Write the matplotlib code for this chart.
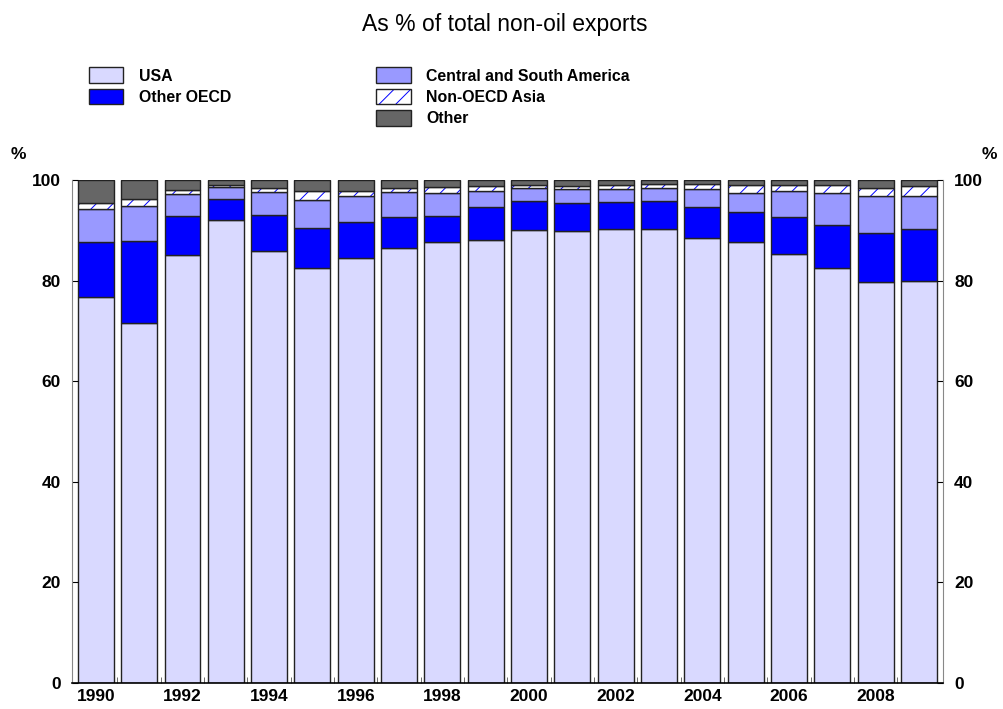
import matplotlib.pyplot as plt
import numpy as np
from matplotlib.patches import Patch

plt.rcParams['font.family'] = ['Liberation Sans', 'DejaVu Sans']
plt.rcParams['hatch.linewidth'] = 0.7

# Jahre und kumulierte Obergrenzen (in %)
jahre = np.arange(1990, 2010)
usa = np.array([76.8, 71.6, 85.2, 92.0, 85.9, 82.6, 84.6, 86.4, 87.7, 88.1,
                90.1, 89.8, 90.2, 90.3, 88.5, 87.7, 85.4, 82.5, 79.7, 80.0])
oecd_top = np.array([87.6, 87.9, 92.8, 96.3, 93.0, 90.4, 91.6, 92.6, 92.8, 94.7,
                     95.8, 95.4, 95.6, 95.8, 94.6, 93.6, 92.6, 91.1, 89.4, 90.2])
csa_top = np.array([94.2, 94.8, 97.2, 98.7, 97.6, 96.0, 96.9, 97.6, 97.5, 97.8,
                    98.5, 98.3, 98.3, 98.5, 98.2, 97.4, 97.8, 97.4, 96.8, 96.8])
asien_top = np.array([95.4, 96.2, 98.1, 99.0, 98.4, 97.8, 97.8, 98.5, 98.7, 98.9,
                      99.0, 98.8, 99.1, 99.3, 99.3, 99.0, 99.0, 99.0, 98.5, 98.8])

andere_oecd = oecd_top - usa
csa = csa_top - oecd_top
asien = asien_top - csa_top
andere = 100 - asien_top

FARBE_USA = '#d9d9ff'
FARBE_OECD = '#0000ff'
FARBE_CSA = '#9999ff'
FARBE_ANDERE = '#666666'
RAND = '#222222'
SCHRIFT = 12.5

fig = plt.figure(figsize=(10.04, 7.09), dpi=100)
ax = fig.add_axes([0.0717, 0.0367, 0.8675, 0.7093])

x = np.arange(len(jahre))
b = 0.83
ax.bar(x, usa, b, color=FARBE_USA, edgecolor=RAND, linewidth=1)
ax.bar(x, andere_oecd, b, bottom=usa, color=FARBE_OECD, edgecolor=RAND, linewidth=1)
ax.bar(x, csa, b, bottom=oecd_top, color=FARBE_CSA, edgecolor=RAND, linewidth=1)
# schraffiert: erst Schraffur in blau, dann Rahmen
ax.bar(x, asien, b, bottom=csa_top, color='white', edgecolor='blue', hatch='//', linewidth=0)
ax.bar(x, asien, b, bottom=csa_top, fill=False, edgecolor=RAND, linewidth=1)
ax.bar(x, andere, b, bottom=asien_top, color=FARBE_ANDERE, edgecolor=RAND, linewidth=1)

ax.set_xlim(-0.55, len(jahre) - 0.45)
ax.set_ylim(0, 100)
ax.set_yticks([0, 20, 40, 60, 80, 100])
ax.set_xticks(x[::2])
ax.set_xticklabels([str(j) for j in jahre[::2]])
ax.set_xticks(x[:-1] + 0.5, minor=True)
ax.tick_params(axis='x', which='major', length=0, pad=4, labelsize=SCHRIFT)
ax.tick_params(axis='x', which='minor', direction='in', length=4, color='#555555')
ax.tick_params(axis='y', direction='in', length=4, right=True, labelright=True, pad=8,
               labelsize=SCHRIFT)
for lab in ax.get_xticklabels():
    lab.set_fontweight('bold')
for t in ax.yaxis.get_major_ticks():
    t.label1.set_fontweight('bold')
    t.label2.set_fontweight('bold')

ax.spines['top'].set_visible(False)
ax.spines['left'].set_color('#888888')
ax.spines['right'].set_color('#888888')
ax.spines['bottom'].set_color('black')
ax.spines['bottom'].set_linewidth(1.2)

fig.text(0.011, 0.782, '%', fontsize=SCHRIFT, fontweight='bold', ha='left', va='center')
fig.text(0.993, 0.782, '%', fontsize=SCHRIFT, fontweight='bold', ha='right', va='center')
fig.text(0.503, 0.966, 'As % of total non-oil exports', fontsize=16.5, ha='center', va='center')

h_usa = Patch(facecolor=FARBE_USA, edgecolor=RAND, label='USA')
h_oecd = Patch(facecolor=FARBE_OECD, edgecolor=RAND, label='Other OECD')
h_csa = Patch(facecolor=FARBE_CSA, edgecolor=RAND, label='Central and South America')
h_asien_schraffur = Patch(facecolor='white', edgecolor='blue', hatch='//', linewidth=0)
h_asien_rahmen = Patch(fill=False, edgecolor=RAND)
h_andere = Patch(facecolor=FARBE_ANDERE, edgecolor=RAND, label='Other')

leg_prop = {'weight': 'bold', 'size': 11.4}
fig.legend(handles=[h_usa, h_oecd], loc='upper left', bbox_to_anchor=(0.082, 0.914),
           frameon=False, prop=leg_prop, handlelength=2.2, handleheight=1.15,
           labelspacing=0.32, handletextpad=1.0, borderaxespad=0)
fig.legend(handles=[h_csa, (h_asien_schraffur, h_asien_rahmen), h_andere],
           labels=['Central and South America', 'Non-OECD Asia', 'Other'],
           loc='upper left', bbox_to_anchor=(0.368, 0.914),
           frameon=False, prop=leg_prop, handlelength=2.2, handleheight=1.15,
           labelspacing=0.32, handletextpad=1.0, borderaxespad=0)

plt.savefig('out.png', dpi=100)
